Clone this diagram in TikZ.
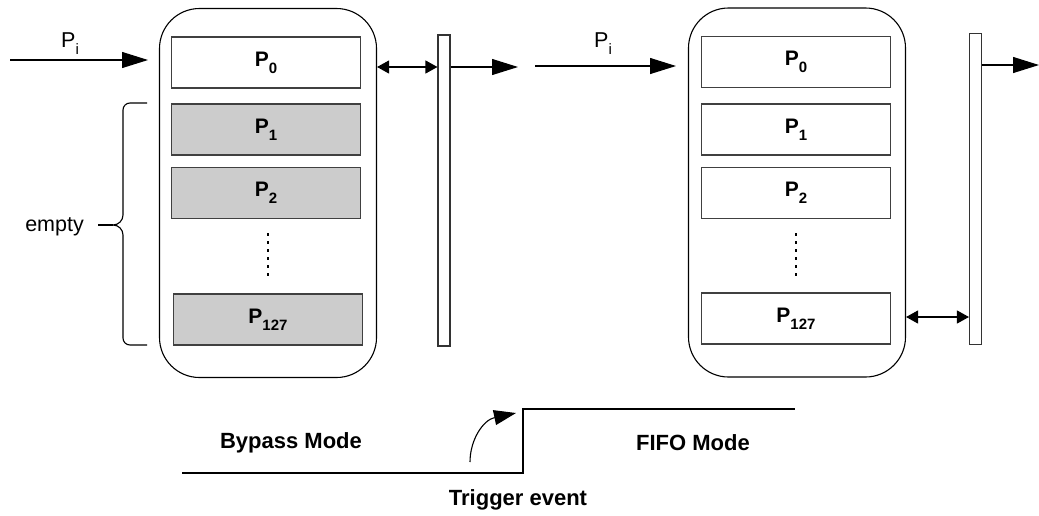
\documentclass[tikz,border=0pt]{standalone}
\usepackage{fontspec}
\setmainfont{Liberation Sans}
\usetikzlibrary{arrows.meta,decorations.pathreplacing}
\newcommand\mysb[1]{\raisebox{-0.32em}{\fontsize{15}{18}\selectfont #1}}
\begin{document}
\begin{tikzpicture}[x=1pt,y=-1pt,
  cont/.style={draw=black, line width=1.1pt, rounded corners=40pt, minimum width=217pt, minimum height=369pt, inner sep=0pt},
  cell/.style={draw=black!75, line width=1.1pt, minimum width=189pt, minimum height=51pt, inner sep=0pt, font=\fontsize{21}{24}\selectfont\bfseries},
  fullcell/.style={cell, fill=black!20},
  bar/.style={draw=black!80, line width=1.1pt, minimum width=12pt, minimum height=311pt, inner sep=0pt},
  arr/.style={-{Triangle[length=26pt,width=16pt]}, line width=1.1pt},
  darr/.style={{Triangle[length=12pt,width=13pt]}-{Triangle[length=12pt,width=13pt]}, line width=1.1pt},
  lab/.style={font=\fontsize{21.5}{24}\selectfont, inner sep=0pt},
  blab/.style={font=\fontsize{22}{24}\selectfont\bfseries, inner sep=0pt},
  dots/.style={line width=1.2pt, dash pattern=on 3pt off 5pt}
]
\useasboundingbox (0,0) rectangle (1039,515);

% left FIFO
\node[cont] (lc) at (268,193) {};
\node[cell] (l0) at (266,62.5) {P\mysb{0}};
\node[fullcell] (l1) at (266,129.5) {P\mysb{1}};
\node[fullcell] (l2) at (266,193) {P\mysb{2}};
\node[fullcell] (l127) at (268,319.5) {P\mysb{127}};
\coordinate (ldt) at (268,233);
\coordinate (ldb) at (268,280);
\draw[dots] (ldt) -- (ldb);
\node[bar] (lb) at (444,190.5) {};

% right FIFO
\node[cont] (rc) at (797,192.5) {};
\node[cell] (r0) at (796,62) {P\mysb{0}};
\node[cell] (r1) at (796,129.5) {P\mysb{1}};
\node[cell] (r2) at (796,193) {P\mysb{2}};
\node[cell] (r127) at (796,318.5) {P\mysb{127}};
\coordinate (rdt) at (796,233);
\coordinate (rdb) at (796,280);
\draw[dots] (rdt) -- (rdb);
\node[bar] (rb) at (975.5,189) {};

% left arrows
\coordinate (lin) at (10,60);
\coordinate (linend) at (148,60);
\draw[arr] (lin) -- (linend);
\node[lab] (lpi) at (70,44) {P\mysb{i}};
\draw[darr] (lc.east |- 0,67) -- (lb.west |- 0,67);
\coordinate (lout) at (518,67);
\draw[arr] (lb.east |- 0,67) -- (lout);

% right arrows
\coordinate (rin) at (535,66);
\coordinate (rinend) at (676,66);
\draw[arr] (rin) -- (rinend);
\node[lab] (rpi) at (603,44) {P\mysb{i}};
\coordinate (rout) at (1039,65);
\draw[arr] (rb.east |- 0,65) -- (rout);
\draw[darr] (rc.east |- 0,317) -- (rb.west |- 0,317);

% brace
\coordinate (bt) at (147,103);
\coordinate (bb) at (147,345);
\draw[line width=1.1pt] (bt) -- (130,103) to[out=180,in=90] (123,110) -- (123,215) to[out=-90,in=0] (113,225) to[out=0,in=90] (123,235) -- (123,338) to[out=-90,in=180] (130,345) -- (bb);
\coordinate (btip) at (113,225);
\coordinate (bline) at (98,225);
\draw[line width=1.1pt] (bline) -- (btip);
\node[lab, anchor=east] (empty) at (84,227) {empty};

% mode step
\coordinate (m0) at (182,473);
\coordinate (m1) at (523,473);
\coordinate (m2) at (523,409);
\coordinate (m3) at (795,409);
\draw[line width=1.1pt] (m0) -- (m1) -- (m2) -- (m3);
\node[blab] (bypass) at (291,443) {Bypass Mode};
\node[blab] (fifo) at (693,443) {FIFO Mode};
\node[blab] (trig) at (518,500) {Trigger event};
\coordinate (ta) at (470,462);
\coordinate (tb) at (516,413);
\draw[line width=1.1pt, -{Triangle[length=22pt,width=15pt]}] (ta) .. controls (470,440) and (483,420) .. (tb);
\end{tikzpicture}
\end{document}
